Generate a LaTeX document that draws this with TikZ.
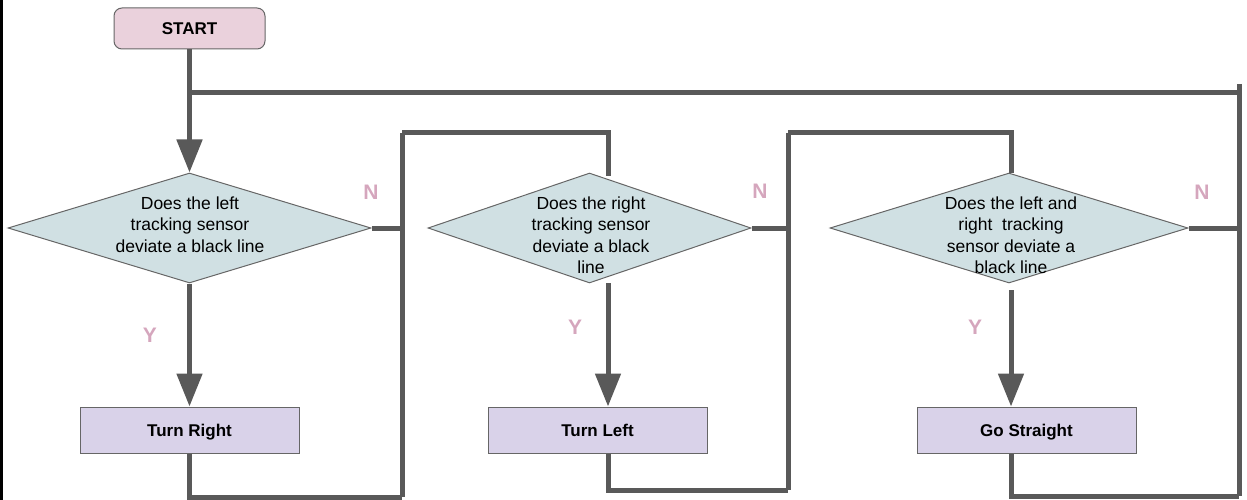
\documentclass[tikz,border=0pt]{standalone}
\usepackage{fontspec}
\setmainfont{Liberation Sans}
\usetikzlibrary{shapes.geometric,arrows.meta}
\definecolor{linec}{HTML}{595959}
\definecolor{startc}{HTML}{EAD1DC}
\definecolor{diac}{HTML}{D0E0E3}
\definecolor{boxc}{HTML}{D9D2E9}
\definecolor{ync}{HTML}{D5A6BD}
\definecolor{edgec}{HTML}{666666}
\begin{document}
\begin{tikzpicture}[x=1pt,y=-1pt,
  conn/.style={draw=linec,line width=5pt,line join=miter},
  arr/.style={conn,-{Triangle[length=33pt,width=25pt]}},
  startbox/.style={draw=edgec,line width=1pt,fill=startc,rounded corners=8pt,
    minimum width=151pt,minimum height=41pt,inner sep=0pt,
    font=\fontsize{17}{20}\selectfont\bfseries,text height=12.2pt,text depth=0pt},
  dia/.style={diamond,draw=edgec,line width=1pt,fill=diac,inner sep=0pt,minimum height=110pt},
  dtext/.style={align=center,anchor=north,inner sep=0pt,font=\fontsize{17.5}{21.5}\selectfont},
  actbox/.style={draw=edgec,line width=1pt,fill=boxc,minimum width=219pt,minimum height=46pt,
    inner sep=0pt,font=\fontsize{17}{20}\selectfont\bfseries,text height=12.2pt,text depth=0pt},
  yn/.style={inner sep=0pt,text=ync,font=\fontsize{21}{24}\selectfont\bfseries,text height=15pt,text depth=0pt}
]
\useasboundingbox (0,0) rectangle (1247,500);
\draw[black,line width=3pt] (1.5,0) -- (1.5,500);

% nodes
\node[startbox] (start) at (189.5,28.5) {START};
\node[dia,minimum width=363pt] (d1) at (189.5,228) {};
\node[dia,minimum width=323pt] (d2) at (589.5,228) {};
\node[dia,minimum width=358pt] (d3) at (1009,228) {};
\node[dtext] (d1t) at (190,196.5) {Does the left\\tracking sensor\\deviate a black line};
\node[dtext] (d2t) at (591,196.5) {Does the right\\tracking sensor\\deviate a black\\line};
\node[dtext] (d3t) at (1011,196.5) {Does the left and\\right~ tracking\\sensor deviate a\\black line};
\node[actbox] (tr) at (189.5,430) {Turn Right};
\node[actbox] (tl) at (597.5,430) {Turn Left};
\node[actbox] (gs) at (1026.5,430) {Go Straight};

% labels
\node[yn] (n1) at (371,192) {N};
\node[yn] (n2) at (760,191) {N};
\node[yn] (n3) at (1202,192) {N};
\node[yn] (y1) at (150,335) {Y};
\node[yn] (y2) at (575,327) {Y};
\node[yn] (y3) at (975,327) {Y};

% coordinates
\coordinate (j0) at (189.5,93);
\coordinate (j3) at (1239,93);
\coordinate (b1t) at (402,133);
\coordinate (b1b) at (402,497);
\coordinate (b2t) at (788,133);
\coordinate (b2b) at (788,490);
\coordinate (b3t) at (1239,84);
\coordinate (b3b) at (1239,496);
\coordinate (d2in) at (608,176);
\coordinate (d3in) at (1011,173);
\coordinate (d2out) at (608,283);
\coordinate (d3out) at (1011,290);

% connectors
\draw[arr] (start.south) -- (d1.north);
\draw[conn] (j0) -- (j3);
\draw[conn] (b3t) -- (b3b);
\draw[conn] (d1.east) -- (d1.east -| b1t);
\draw[conn] (b1t) -- (b1b);
\draw[arr] (d1.south) -- (tr.north);
\draw[conn] (tr.south) |- (b1b);
\draw[conn] (b1t) -| (d2in);
\draw[conn] (d2.east) -- (d2.east -| b2t);
\draw[conn] (b2t) -- (b2b);
\draw[arr] (d2out) -- (d2out |- tl.north);
\draw[conn] (tl.south -| d2out) |- (b2b);
\draw[conn] (b2t) -| (d3in);
\draw[conn] (d3.east) -- (d3.east -| b3t);
\draw[arr] (d3out) -- (d3out |- gs.north);
\draw[conn] (gs.south -| d3in) |- (b3b);
\end{tikzpicture}
\end{document}
